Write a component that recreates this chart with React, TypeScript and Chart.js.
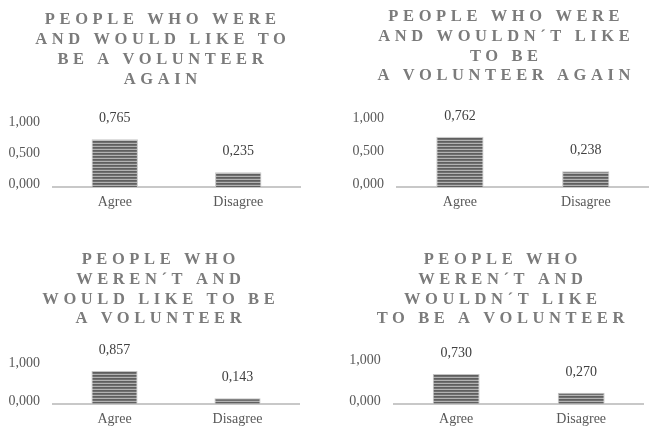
import React, { useEffect, useRef } from 'react';
import { Chart, registerables } from 'chart.js';

Chart.register(...registerables);

// ---- data ----
const categories = ['Agree', 'Disagree'];

const valuesWereWould = [0.765, 0.235];
const valuesWereWouldnt = [0.762, 0.238];
const valuesWerentWould = [0.857, 0.143];
const valuesWerentWouldnt = [0.73, 0.27];

const titleWereWould = ['PEOPLE WHO WERE', 'AND WOULD LIKE TO', 'BE A VOLUNTEER', 'AGAIN'];
const titleWereWouldnt = ['PEOPLE WHO WERE', 'AND WOULDN\u00B4T LIKE', 'TO BE', 'A VOLUNTEER AGAIN'];
const titleWerentWould = ['PEOPLE WHO', 'WEREN\u00B4T AND', 'WOULD LIKE TO BE', 'A VOLUNTEER'];
const titleWerentWouldnt = ['PEOPLE WHO', 'WEREN\u00B4T AND', 'WOULDN\u00B4T LIKE', 'TO BE A VOLUNTEER'];

const ticksHalfStep = [0, 0.5, 1];
const ticksUnitStep = [0, 1];

// ---- layout / style ----
const W = 327;
const H = 213;
const SERIF = '"Liberation Serif", "Times New Roman", serif';
const TITLE_LS = 4.6;
const TITLE_SIZE = 16.5;
const LABEL_SIZE = 14;

const fmt = (v: number) => v.toFixed(3).replace('.', ',');

type Panel = {
  title: string[];
  values: number[];
  ticks: number[];
  left: number;
  right: number;
  top: number;
  bottom: number;
  titleX: number;
  titleY: number;
};

const panels: Panel[] = [
  { title: titleWereWould, values: valuesWereWould, ticks: ticksHalfStep, left: 53, right: 300, top: 124.5, bottom: 187, titleX: 160.5, titleY: 20 },
  { title: titleWereWouldnt, values: valuesWereWouldnt, ticks: ticksHalfStep, left: 70, right: 321.7, top: 121, bottom: 187, titleX: 177, titleY: 16.7 },
  { title: titleWerentWould, values: valuesWerentWould, ticks: ticksUnitStep, left: 53, right: 299, top: 152.5, bottom: 190.7, titleX: 158.5, titleY: 46.7 },
  { title: titleWerentWouldnt, values: valuesWerentWouldnt, ticks: ticksUnitStep, left: 66.7, right: 316.7, top: 150, bottom: 190.7, titleX: 173.5, titleY: 46.7 },
];

function makeStripePattern(ctx: CanvasRenderingContext2D) {
  const c = document.createElement('canvas');
  c.width = 4;
  c.height = 3;
  const x = c.getContext('2d')!;
  x.fillStyle = '#5f5f5f';
  x.fillRect(0, 0, 4, 1);
  x.fillStyle = '#707070';
  x.fillRect(0, 1, 4, 1);
  x.fillStyle = '#b2b2b2';
  x.fillRect(0, 2, 4, 1);
  return ctx.createPattern(c, 'repeat');
}

function ChartPanel({ panel }: { panel: Panel }) {
  const ref = useRef<HTMLCanvasElement>(null);

  useEffect(() => {
    const canvas = ref.current;
    if (!canvas) return;
    const ctx0 = canvas.getContext('2d')!;
    const pattern = makeStripePattern(ctx0);

    const textPlugin = {
      id: 'panelText',
      afterDatasetsDraw(chart: any) {
        const ctx = chart.ctx;
        const meta = chart.getDatasetMeta(0);
        ctx.save();
        ctx.font = LABEL_SIZE + 'px ' + SERIF;
        ctx.fillStyle = '#404040';
        ctx.textAlign = 'center';
        ctx.textBaseline = 'middle';
        meta.data.forEach((bar: any, i: number) => {
          ctx.fillText(fmt(panel.values[i]), bar.x, bar.y - 20.5);
        });
        ctx.restore();
      },
      afterDraw(chart: any) {
        const ctx = chart.ctx;
        ctx.save();
        ctx.letterSpacing = TITLE_LS + 'px';
        ctx.font = 'bold ' + TITLE_SIZE + 'px ' + SERIF;
        ctx.fillStyle = '#7b7b7b';
        ctx.textAlign = 'center';
        ctx.textBaseline = 'middle';
        panel.title.forEach((line, i) => {
          ctx.fillText(line, panel.titleX + TITLE_LS / 2, panel.titleY + i * 19.8);
        });
        ctx.restore();
      },
    };

    const chart = new Chart(canvas, {
      type: 'bar',
      data: {
        labels: categories,
        datasets: [
          {
            data: panel.values,
            backgroundColor: pattern as any,
            borderColor: '#c4c4c4',
            borderWidth: { top: 1, left: 1, right: 1, bottom: 0 } as any,
            barPercentage: 0.375,
            categoryPercentage: 1,
          },
        ],
      },
      options: {
        responsive: false,
        animation: false,
        devicePixelRatio: 1,
        layout: { padding: { left: 0, right: W - panel.right, top: panel.top, bottom: 0 } },
        plugins: {
          legend: { display: false },
          tooltip: { enabled: false },
          title: { display: false },
        },
        scales: {
          x: {
            grid: { display: false, drawTicks: false },
            border: { display: true, color: '#c8c8c8', width: 2 },
            ticks: { color: '#595959', font: { family: SERIF, size: LABEL_SIZE }, padding: 7 },
            afterFit: (s: any) => {
              s.height = H - panel.bottom;
            },
          },
          y: {
            min: 0,
            max: 1,
            grid: { display: false, drawTicks: false },
            border: { display: false },
            ticks: {
              color: '#595959',
              font: { family: SERIF, size: LABEL_SIZE },
              padding: 13,
              labelOffset: -2.5,
              callback: (v: any) => fmt(Number(v)),
            },
            afterBuildTicks: (s: any) => {
              s.ticks = panel.ticks.map((v) => ({ value: v }));
            },
            afterFit: (s: any) => {
              s.width = panel.left;
            },
          },
        },
      },
      plugins: [textPlugin],
    });

    return () => chart.destroy();
  }, [panel]);

  return <canvas ref={ref} width={W} height={H} style={{ display: 'block', width: W, height: H }} />;
}

export default function App() {
  return (
    <div style={{ position: 'absolute', left: 0, top: 0, width: 654, height: 426, background: '#ffffff' }}>
      {panels.map((p, i) => (
        <div
          key={i}
          style={{ position: 'absolute', left: (i % 2) * W, top: Math.floor(i / 2) * H, width: W, height: H }}
        >
          <ChartPanel panel={p} />
        </div>
      ))}
    </div>
  );
}
